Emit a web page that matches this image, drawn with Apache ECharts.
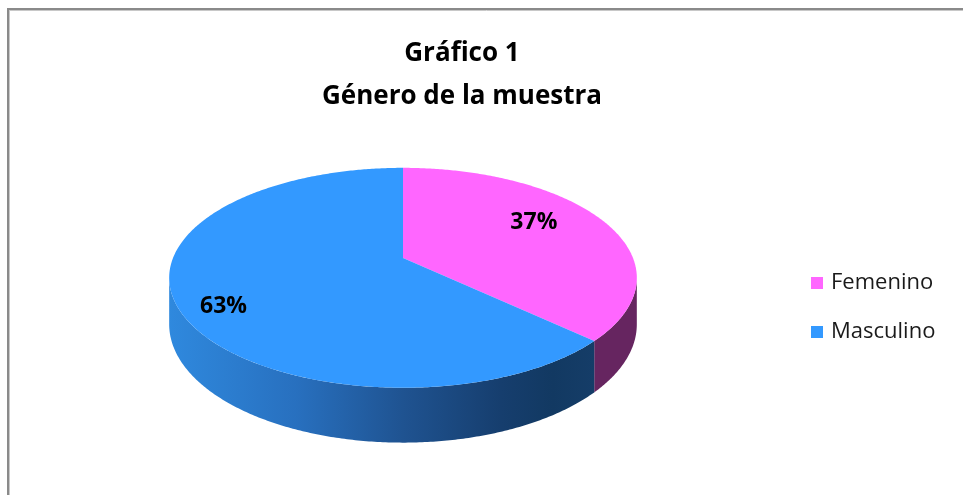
<!DOCTYPE html>
<html>
<head>
<meta charset="utf-8">
<script src="https://cdn.jsdelivr.net/npm/echarts@6/dist/echarts.min.js"></script>
<style>
html,body{margin:0;padding:0;background:#fff;}
#chart{width:963px;height:495px;}
</style>
</head>
<body>
<div id="chart"></div>
<script>
// ---- data ----
const categories = ['Femenino', 'Masculino'];
const values = [37, 63];
const titleLines = ['Gráfico 1', 'Género de la muestra'];

// ---- style / geometry config ----
const FONT = '"Open Sans"';
const topColors = ['#FF66FF', '#3399FF'];
const labelRadius = [0.62, 0.85];
const CX = 403, CY = 258, RX = 230, RY = 106.4, A = 0.18, T = 45;
const PHI_VIS = Math.acos(-A);               // silhouette angle (right)
const PHI_VIS2 = 2 * Math.PI - PHI_VIS;     // silhouette angle (left)

const total = values.reduce((s, v) => s + v, 0);
const starts = [];
let acc = 0;
values.forEach(v => { starts.push(acc / total * 2 * Math.PI); acc += v; });

function proj(phi, depth) {
  const u = Math.sin(phi), v = -Math.cos(phi);
  const s = 1 / (1 - A * v);
  return [CX + RX * u * s, CY + RY * v * s + depth * s];
}
function arc(p1, p2, depth) {
  const pts = [];
  const n = Math.max(2, Math.ceil((p2 - p1) / 0.01));
  for (let k = 0; k <= n; k++) pts.push(proj(p1 + (p2 - p1) * k / n, depth));
  return pts;
}

const wallFills = [
  '#662560',
  new echarts.graphic.LinearGradient(168, 0, 595, 0, [
    {offset: 0, color: '#2F89DE'},
    {offset: 0.3, color: '#2870BF'},
    {offset: 0.55, color: '#1F5391'},
    {offset: 0.78, color: '#163E6E'},
    {offset: 0.9, color: '#123962'},
    {offset: 1, color: '#153D68'}
  ], true)
];

function makeRender(i) {
  return function (params, api) {
    const val = api.value(0);
    const p1 = starts[i];
    const p2 = p1 + val / total * 2 * Math.PI;
    const children = [];
    const w1 = Math.max(p1, PHI_VIS), w2 = Math.min(p2, PHI_VIS2);
    if (w2 > w1) {
      const topArc = arc(w1, w2, 0);
      const botArc = arc(w1, w2, T).reverse();
      children.push({
        type: 'polygon',
        z2: 1,
        shape: {points: topArc.concat(botArc)},
        style: {fill: wallFills[i], stroke: null}
      });
    }
    const topPts = [[CX, CY]].concat(arc(p1, p2, 0));
    children.push({
      type: 'polygon',
      z2: 2,
      shape: {points: topPts},
      style: {fill: topColors[i], stroke: null}
    });
    const mid = (p1 + p2) / 2;
    const r = labelRadius[i];
    const lx = CX + RX * r * Math.sin(mid);
    const ly = CY + RY * r * (-Math.cos(mid)) * 1.36;
    children.push({
      type: 'text',
      z2: 3,
      x: lx, y: ly,
      style: {
        text: Math.round(val / total * 100) + '%',
        fill: '#000',
        font: 'bold 23px ' + FONT,
        align: 'center',
        verticalAlign: 'middle'
      }
    });
    return {type: 'group', children: children};
  };
}

const series = categories.map((name, i) => ({
  type: 'custom',
  name: name,
  coordinateSystem: 'none',
  z: 2 + i,
  itemStyle: {color: topColors[i]},
  data: [[values[i]]],
  renderItem: makeRender(i),
  animation: false
}));

const chart = echarts.init(document.getElementById('chart'), null, {renderer: 'canvas'});
chart.setOption({
  backgroundColor: '#fff',
  animation: false,
  title: {
    text: titleLines.join('\n'),
    left: 457,
    top: 27,
    textAlign: 'center',
    textStyle: {fontFamily: FONT, fontWeight: 'bold', fontSize: 26, lineHeight: 43, color: '#000'}
  },
  legend: {
    data: categories,
    orient: 'vertical',
    left: 811,
    top: 272,
    padding: 0,
    icon: 'rect',
    itemWidth: 12,
    itemHeight: 12,
    itemGap: 27,
    textStyle: {fontFamily: FONT, fontSize: 22, color: '#1a1a1a', padding: [0, 0, 0, 3]}
  },
  graphic: [
    {type: 'line', shape: {x1: 8, y1: 9, x2: 970, y2: 9}, style: {stroke: '#8a8a8a', lineWidth: 2}, z: 10},
    {type: 'line', shape: {x1: 8, y1: 8, x2: 8, y2: 500}, style: {stroke: '#8a8a8a', lineWidth: 2}, z: 10},
    {type: 'line', shape: {x1: 9, y1: 10.5, x2: 970, y2: 10.5}, style: {stroke: '#c8c8c8', lineWidth: 1}, z: 10},
    {type: 'line', shape: {x1: 9.5, y1: 10, x2: 9.5, y2: 500}, style: {stroke: '#c8c8c8', lineWidth: 1}, z: 10}
  ],
  series: series
});
</script>
</body>
</html>
